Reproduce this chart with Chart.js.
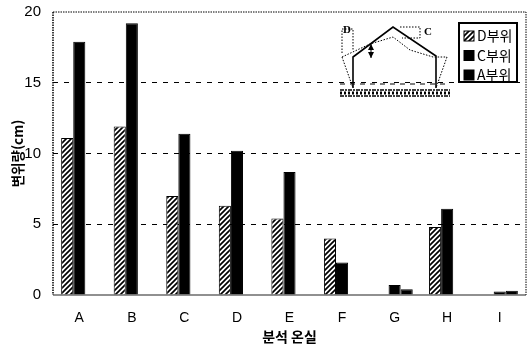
<!DOCTYPE html>
<html lang="ko">
<head>
<meta charset="utf-8">
<title>변위량</title>
<script src="https://cdn.jsdelivr.net/npm/chart.js@4/dist/chart.umd.min.js"></script>
<style>
    html, body { margin: 0; padding: 0; background: #fff; }
    #wrap { position: relative; width: 527px; height: 345px; overflow: hidden; }
    #inset { position: absolute; left: 0; top: 0; pointer-events: none; }
    #inset text { font: bold 11px "Liberation Serif", serif; }
</style>
</head>
<body>
<div id="wrap">
    <canvas id="chart" width="527" height="345"></canvas>
    <svg id="inset" width="527" height="345">
        <g fill="none" stroke="#000">
            <polyline points="353,88 353,57 393,27 436,56 436,88" stroke-width="1.6"/>
            <line x1="340" y1="84" x2="450" y2="84" stroke-dasharray="5 5"/>
            <g stroke-dasharray="1.5 1.5">
                <polyline points="342,57 370,44 393,37 410,50 433,57 447,57"/>
                <line x1="342" y1="57" x2="353" y2="88"/>
                <line x1="447" y1="57" x2="436" y2="88"/>
                <polyline points="342,53 342,29 353,29 353,50"/>
                <polyline points="400,27 420,27 420,38 402,38"/>
            </g>
            <line x1="371" y1="44" x2="371" y2="58"/>
            <path d="M340 90 H450 M340 96 H450" stroke-width="1.5" stroke-dasharray="4 1 2 1"/>
            <path d="M340 93 H450" stroke-width="3" stroke-dasharray="2 2"/>
        </g>
        <path d="M371 44 l-3 6 h6 z M371 58 l-3 -6 h6 z" fill="#000"/>
        <text x="343" y="33">D</text>
        <text x="424" y="35">C</text>
    </svg>
</div>
<script>
"use strict";

const categories = ['A', 'B', 'C', 'D', 'E', 'F', 'G', 'H', 'I'];
const seriesD = [11.1, 11.9, 7.0, 6.3, 5.4, 4.0, 0, 4.8, 0];
const seriesC = [17.9, 19.2, 11.4, 10.2, 8.7, 2.3, 0.7, 6.1, 0.25];
const seriesA = [0, 0, 0, 0, 0, 0, 0.4, 0, 0.3];
const yTicks = [0, 5, 10, 15, 20];

const latin = '"Liberation Sans", Arial, sans-serif';
const korean = '"Noto Sans CJK KR", sans-serif';

/* diagonal hatch used by the D series and its legend swatch. */
const makeHatch = () => {
    const size = 5;
    const c = document.createElement('canvas');
    c.width = size;
    c.height = size;
    const p = c.getContext('2d');
    p.fillStyle = '#fff';
    p.fillRect(0, 0, size, size);
    p.strokeStyle = '#000';
    p.lineWidth = 1.7;
    p.beginPath();
    p.moveTo(-1, size + 1);
    p.lineTo(size + 1, -1);
    p.moveTo(-1, 1);
    p.lineTo(1, -1);
    p.moveTo(size - 1, size + 1);
    p.lineTo(size + 1, size - 1);
    p.stroke();
    return p.createPattern(c, 'repeat');
};

const hatch = makeHatch();

/* the dotted frame around the plot, and the solid base line. */
const framePlugin = {
    id: 'frame',
    afterDatasetsDraw(chart) {
        const { ctx, chartArea: a } = chart;
        ctx.save();
        ctx.strokeStyle = '#000';
        ctx.lineWidth = 1;
        ctx.setLineDash([1.5, 1]);
        ctx.beginPath();
        ctx.moveTo(a.left, a.top);
        ctx.lineTo(a.right, a.top);
        ctx.lineTo(a.right, a.bottom);
        ctx.stroke();
        ctx.lineWidth = 1.5;
        ctx.beginPath();
        ctx.moveTo(a.left, a.top);
        ctx.lineTo(a.left, a.bottom);
        ctx.stroke();
        ctx.setLineDash([]);
        ctx.strokeStyle = '#222';
        ctx.lineWidth = 1.2;
        ctx.beginPath();
        ctx.moveTo(a.left, a.bottom);
        ctx.lineTo(a.right, a.bottom);
        ctx.stroke();
        ctx.restore();
    }
};

/* boxed legend in the upper right corner, as in the figure. */
const legendPlugin = {
    id: 'boxLegend',
    afterDraw(chart) {
        const { ctx } = chart;
        ctx.save();
        ctx.fillStyle = '#fff';
        ctx.strokeStyle = '#000';
        ctx.lineWidth = 2;
        ctx.fillRect(459, 23, 58, 59);
        ctx.strokeRect(459, 23, 58, 59);
        ctx.font = `14px ${korean}`;
        ctx.textBaseline = 'middle';
        chart.data.datasets.forEach((ds, i) => {
            const y = 31 + i * 19.5;
            ctx.fillStyle = ds.backgroundColor;
            ctx.fillRect(464, y, 10, 10);
            ctx.lineWidth = 1;
            ctx.strokeRect(464, y, 10, 10);
            ctx.fillStyle = '#000';
            ctx.fillText(ds.label, 477, y + 5);
        });
        ctx.restore();
    }
};

const makeSeries = (label, data, fill) => ({
    label: label,
    data: data,
    backgroundColor: fill,
    borderColor: '#000',
    borderWidth: 1,
    categoryPercentage: 0.69,
    barPercentage: 1
});

new Chart(document.getElementById('chart'), {
    type: 'bar',
    data: {
        labels: categories,
        datasets: [
            makeSeries('D부위', seriesD, hatch),
            makeSeries('C부위', seriesC, '#000'),
            makeSeries('A부위', seriesA, '#000')
        ]
    },
    options: {
        responsive: false,
        animation: false,
        layout: { padding: { top: 12, right: 1, bottom: 0, left: 10 } },
        plugins: {
            legend: { display: false },
            tooltip: { enabled: false }
        },
        scales: {
            x: {
                grid: { display: false, drawTicks: false },
                border: { display: false },
                ticks: { color: '#000', padding: 15, font: { family: latin, size: 14 } },
                title: {
                    display: true,
                    text: '분석 온실',
                    color: '#000',
                    padding: { top: 4, bottom: 0 },
                    font: { family: korean, size: 14, weight: 'bold' }
                },
                afterFit: (scale) => { scale.height = 50; }
            },
            y: {
                min: 0,
                max: 20,
                afterBuildTicks: (scale) => { scale.ticks = yTicks.map(v => ({ value: v })); },
                grid: {
                    color: (c) => (c.tick.value > 0 && c.tick.value < 20 ? '#000' : 'transparent'),
                    tickColor: 'transparent',
                    tickLength: 12
                },
                border: { display: false, dash: [5, 6] },
                /* tick padding also pushes the plot top down, so the gap comes from tickLength. */
                ticks: { color: '#000', padding: 0, font: { family: latin, size: 15 } },
                title: {
                    display: true,
                    text: '변위량(cm)',
                    color: '#000',
                    padding: { top: 0, bottom: 0 },
                    font: { family: korean, size: 13.5, weight: 'bold' }
                },
                afterFit: (scale) => { scale.width = 43; }
            }
        }
    },
    plugins: [framePlugin, legendPlugin]
});
</script>
</body>
</html>
